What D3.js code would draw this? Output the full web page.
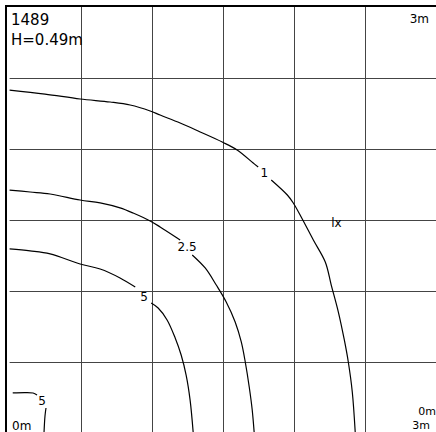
<!DOCTYPE html>
<html>
<head>
<meta charset="utf-8">
<script src="https://cdn.jsdelivr.net/npm/d3@7"></script>
<style>
  body { margin: 0; background: #fff; }
  text { font-family: "DejaVu Sans", sans-serif; fill: #000; }
</style>
</head>
<body>
<svg id="svg" width="436" height="432"></svg>
<script>
// room 3m x 3m, grid every 0.5m
const gridTicks = [0, 0.5, 1, 1.5, 2, 2.5, 3];

// contour levels (lx) and their label positions (m)
const levels = ["1", "2.5", "5", "5"];
const labelPos = [[1.792, 1.831], [1.249, 1.310], [0.946, 0.958], [0.228, 0.225]];

// each contour is cut in two where the label sits
const contour1A = [[0, 2.415], [0.249, 2.387], [0.496, 2.352], [0.707, 2.331], [0.848, 2.310], [0.989, 2.268],
  [1.059, 2.239], [1.200, 2.183], [1.341, 2.120], [1.496, 2.049], [1.601, 1.993], [1.714, 1.901], [1.749, 1.873]];
const contour1B = [[1.841, 1.782], [1.954, 1.676], [1.996, 1.620], [2.059, 1.507], [2.137, 1.359], [2.221, 1.204],
  [2.263, 1.042], [2.313, 0.852], [2.355, 0.655], [2.383, 0.500], [2.411, 0.289], [2.432, 0]];

const contour25A = [[0, 1.711], [0.144, 1.697], [0.285, 1.683], [0.496, 1.641], [0.637, 1.620], [0.777, 1.585],
  [0.869, 1.549], [0.989, 1.493], [1.059, 1.451], [1.179, 1.373], [1.200, 1.359]];
const contour25B = [[1.285, 1.254], [1.376, 1.162], [1.454, 1.042], [1.524, 0.923], [1.587, 0.782], [1.630, 0.641],
  [1.658, 0.500], [1.686, 0.324], [1.707, 0.162], [1.721, 0]];

const contour5A = [[0, 1.296], [0.144, 1.282], [0.285, 1.261], [0.496, 1.190], [0.637, 1.155], [0.777, 1.092], [0.884, 1.028]];
const contour5B = [[0.996, 0.915], [1.045, 0.880], [1.108, 0.796], [1.165, 0.669], [1.207, 0.549], [1.242, 0.408],
  [1.270, 0.232], [1.292, 0]];

const corner5A = [[0.022, 0.282], [0.108, 0.285], [0.165, 0.282], [0.193, 0.268]];
const corner5B = [[0.256, 0.176], [0.249, 0.120], [0.242, 0]];

const segments = [contour1A, contour1B, contour25A, contour25B, contour5A, contour5B, corner5A, corner5B];

const title = "1489";
const heightLabel = "H=0.49m";
const unitLabel = "lx";
const unitPos = [2.299, 1.479];

const svg = d3.select("svg");

const x = d3.scaleLinear().domain([0, 3]).range([9.6, 436]);
const y = d3.scaleLinear().domain([0, 3]).range([433, 7]);
const crisp = v => Math.round(v) + 0.5;

// grid
svg.append("g")
  .selectAll("line")
  .data(gridTicks.slice(1, -1))
  .enter().append("line")
    .attr("x1", d => crisp(x(d))).attr("x2", d => crisp(x(d)))
    .attr("y1", y(3)).attr("y2", y(0))
    .attr("stroke", "#444").attr("stroke-width", 1);

svg.append("g")
  .selectAll("line")
  .data(gridTicks.slice(1, -1))
  .enter().append("line")
    .attr("x1", x(0)).attr("x2", x(3))
    .attr("y1", d => crisp(y(d))).attr("y2", d => crisp(y(d)))
    .attr("stroke", "#444").attr("stroke-width", 1);

// frame (top and left)
svg.append("line").attr("x1", 5).attr("x2", 436).attr("y1", 6).attr("y2", 6)
  .attr("stroke", "#000").attr("stroke-width", 2);
svg.append("line").attr("x1", 6).attr("x2", 6).attr("y1", 5).attr("y2", 432)
  .attr("stroke", "#000").attr("stroke-width", 2);

// contours
const line = d3.line()
  .x(d => x(d[0]))
  .y(d => y(d[1]))
  .curve(d3.curveCatmullRom);

svg.append("g")
  .selectAll("path")
  .data(segments)
  .enter().append("path")
    .attr("d", line)
    .attr("fill", "none")
    .attr("stroke", "#000")
    .attr("stroke-width", 1.2);

svg.append("g")
  .selectAll("text")
  .data(levels)
  .enter().append("text")
    .attr("x", (d, i) => x(labelPos[i][0]))
    .attr("y", (d, i) => y(labelPos[i][1]))
    .attr("text-anchor", "middle")
    .attr("dominant-baseline", "central")
    .attr("font-size", 12)
    .text(d => d);

svg.append("text")
  .attr("x", x(unitPos[0])).attr("y", y(unitPos[1]))
  .attr("text-anchor", "middle").attr("dominant-baseline", "central")
  .attr("font-size", 12)
  .text(unitLabel);

// titles
svg.append("text").attr("x", 11).attr("y", 25).attr("font-size", 15).text(title);
svg.append("text").attr("x", 11).attr("y", 45).attr("font-size", 15).text(heightLabel);

// corner dimensions
svg.append("text").attr("x", 429).attr("y", 23).attr("text-anchor", "end").attr("font-size", 12).text("3m");
svg.append("text").attr("x", 12).attr("y", 430).attr("font-size", 12).text("0m");
svg.append("text").attr("x", 436).attr("y", 415).attr("text-anchor", "end").attr("font-size", 11).text("0m");
svg.append("text").attr("x", 430).attr("y", 429).attr("text-anchor", "end").attr("font-size", 11).text("3m");
</script>
</body>
</html>
